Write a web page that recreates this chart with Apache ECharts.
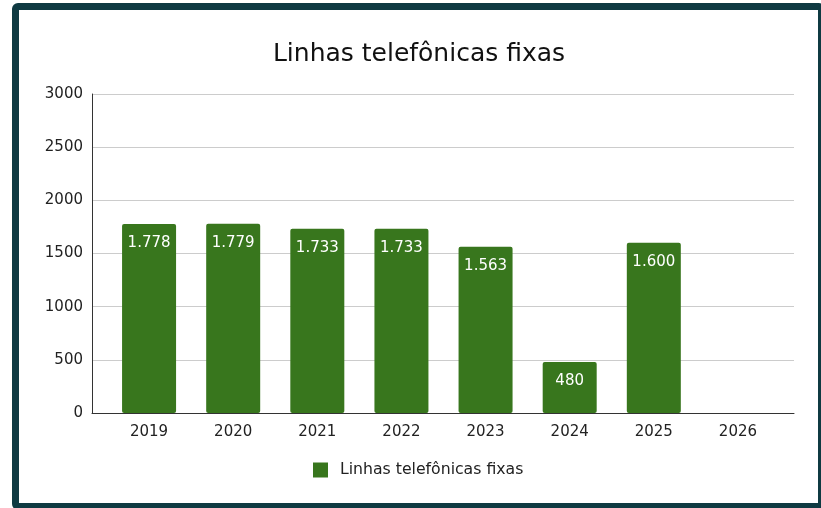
<!DOCTYPE html>
<html>
<head>
<meta charset="utf-8">
<script src="https://cdn.jsdelivr.net/npm/echarts@6/dist/echarts.min.js"></script>
<style>
  html, body { margin: 0; padding: 0; background: #fff; }
  #frame {
    position: absolute; left: 12px; top: 3px;
    width: 799px; height: 493px;
    border: 7px solid #0f3a42; border-radius: 6px;
    background: #fff;
  }
  #chart { position: absolute; left: 0; top: 0; width: 821px; height: 508px; }
</style>
</head>
<body>
<div id="frame"></div>
<div id="chart"></div>
<script>
  // dados
  var anos = ['2019', '2020', '2021', '2022', '2023', '2024', '2025', '2026'];
  var linhas = [1778, 1779, 1733, 1733, 1563, 480, 1600, null];
  var nomeSerie = 'Linhas telefônicas fixas';

  var fonte = "'DejaVu Sans'";
  var verde = '#38761d';

  // 1778 -> "1.778"
  function fmt(v) {
    return String(v).replace(/\B(?=(\d{3})+(?!\d))/g, '.');
  }

  var chart = echarts.init(document.getElementById('chart'));
  chart.setOption({
    animation: false,
    backgroundColor: 'transparent',
    title: {
      text: nomeSerie,
      left: 414, top: 37, textAlign: 'center',
      textStyle: { fontFamily: fonte, fontSize: 25, fontWeight: 'normal', color: '#111' }
    },
    legend: {
      bottom: 25, left: 308,
      itemWidth: 15, itemHeight: 15, itemGap: 10,
      data: [{ name: nomeSerie, icon: 'rect' }],
      textStyle: { fontFamily: fonte, fontSize: 15.7, color: '#222', padding: [0, 0, 0, 7] }
    },
    grid: [
      { left: 92, right: 27, top: 94, bottom: 95 },
      { left: 107, right: 41, top: 94, bottom: 95 }
    ],
    xAxis: [
      {
        gridIndex: 0, type: 'category', data: anos,
        axisLine: { lineStyle: { color: '#333', width: 1 } },
        axisTick: { show: false }, axisLabel: { show: false }
      },
      {
        gridIndex: 1, type: 'category', data: anos,
        axisLine: { show: false }, axisTick: { show: false },
        axisLabel: { fontFamily: fonte, fontSize: 15, color: '#222', margin: 12 }
      }
    ],
    yAxis: [
      {
        gridIndex: 0, type: 'value', min: 0, max: 3000, interval: 500,
        axisLine: { show: true, lineStyle: { color: '#333', width: 1 } },
        axisTick: { show: false },
        splitLine: { lineStyle: { color: '#cccccc' } },
        axisLabel: {
          fontFamily: fonte, fontSize: 15, color: '#222', margin: 9,
          formatter: function (v) { return String(v); }
        }
      },
      {
        gridIndex: 1, type: 'value', min: 0, max: 3000, interval: 500,
        show: false, splitLine: { show: false }
      }
    ],
    series: [{
      name: nomeSerie, type: 'bar',
      xAxisIndex: 1, yAxisIndex: 1,
      data: linhas, barWidth: 54,
      itemStyle: { color: verde, borderRadius: 2 },
      label: {
        show: true, position: 'insideTop', distance: 12,
        color: '#fff', fontFamily: fonte, fontSize: 15,
        formatter: function (p) { return fmt(p.value); }
      }
    }]
  });
</script>
</body>
</html>
